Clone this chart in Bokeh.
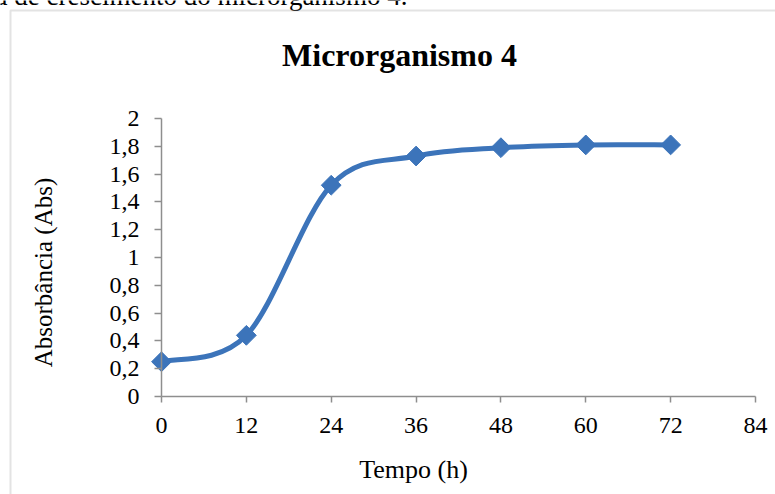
import numpy as np
from bokeh.plotting import figure
from bokeh.models import Range1d, FixedTicker, Label, BoxAnnotation, ColumnDataSource, CustomJSTickFormatter
from bokeh.embed import file_html
from bokeh.resources import INLINE

# Growth curve of microorganism 4
tempo_h = [0, 12, 24, 36, 48, 60, 72]
absorbancia = [0.25, 0.44, 1.52, 1.73, 1.79, 1.81, 1.81]
x_ticks = [0, 12, 24, 36, 48, 60, 72, 84]
y_ticks = [0, 0.2, 0.4, 0.6, 0.8, 1.0, 1.2, 1.4, 1.6, 1.8, 2.0]

titulo = "Microrganismo 4"
rotulo_x = "Tempo (h)"
rotulo_y = "Absorbância (Abs)"
legenda_texto = "a de crescimento do microrganismo 4."

SERIF = "Liberation Serif"
BLUE = "#3c74ba"
AXIS_GRAY = "#8e8e8e"

W, H = 775, 494
# plot area in canvas pixels (left, right, top, bottom)
PL, PR, PT, PB = 161, 755, 118, 396
X0, X1, Y0, Y1 = 0, 84, 0, 2
kx = (X1 - X0) / (PR - PL)
ky = (Y1 - Y0) / (PB - PT)

# The frame spans the whole canvas; axes are pinned at the data origin
p = figure(width=W, height=H, output_backend="svg", toolbar_location=None,
           x_range=Range1d(X0 - PL * kx, X1 + (W - PR) * kx),
           y_range=Range1d(Y0 - (H - PB) * ky, Y1 + PT * ky),
           min_border=0, min_border_left=0, min_border_right=0,
           min_border_top=0, min_border_bottom=0)
p.outline_line_color = None
p.xgrid.visible = False
p.ygrid.visible = False
p.background_fill_color = "white"
p.border_fill_color = "white"

for ax in (p.xaxis[0], p.yaxis[0]):
    ax.axis_line_color = AXIS_GRAY
    ax.axis_line_width = 1.5
    ax.major_tick_line_color = AXIS_GRAY
    ax.major_tick_line_width = 1.5
    ax.major_tick_in = 0
    ax.minor_tick_line_color = None
    ax.major_label_text_font = SERIF
    ax.major_label_text_font_size = "24px"
    ax.major_label_text_color = "#000000"

p.xaxis.fixed_location = Y0
p.yaxis.fixed_location = X0
p.xaxis.bounds = (X0, X1)
p.yaxis.bounds = (Y0, Y1)
p.xaxis.ticker = FixedTicker(ticks=x_ticks)
p.yaxis.ticker = FixedTicker(ticks=y_ticks)
p.xaxis.major_tick_out = 6
p.yaxis.major_tick_out = 7
p.xaxis.major_label_standoff = 15
p.yaxis.major_label_standoff = 15
p.yaxis.formatter = CustomJSTickFormatter(
    code="return (Math.round(tick*10)/10).toString().replace('.', ',');")

# Smoothed line: cubic Bezier segments with Catmull-Rom control points
xs = np.array(tempo_h, dtype=float)
ys = np.array(absorbancia, dtype=float)
xp = np.concatenate([[xs[0]], xs, [xs[-1]]])
yp = np.concatenate([[ys[0]], ys, [ys[-1]]])
seg = ColumnDataSource(dict(
    x0=xs[:-1], y0=ys[:-1], x1=xs[1:], y1=ys[1:],
    cx0=xs[:-1] + (xp[2:-1] - xp[:-3]) / 6.0,
    cy0=ys[:-1] + (yp[2:-1] - yp[:-3]) / 6.0,
    cx1=xs[1:] - (xp[3:] - xp[1:-2]) / 6.0,
    cy1=ys[1:] - (yp[3:] - yp[1:-2]) / 6.0,
))
p.bezier(x0="x0", y0="y0", x1="x1", y1="y1", cx0="cx0", cy0="cy0",
         cx1="cx1", cy1="cy1", source=seg, line_color=BLUE, line_width=5)
p.scatter(tempo_h, absorbancia, marker="square", size=14, angle=np.pi / 4,
          fill_color=BLUE, line_color=BLUE)


def label(x, y_top, text, size, **kw):
    # screen units run from the frame's bottom-left corner
    p.add_layout(Label(x=x, y=H - y_top, x_units="screen", y_units="screen",
                       text=text, text_font=SERIF, text_font_size=size,
                       text_baseline="alphabetic", text_color="#000000", **kw))


label(399, 54, titulo, "32px", text_font_style="bold", text_align="center")
label(413, 469, rotulo_x, "26px", text_align="center")
label(43, 272, rotulo_y, "25px", text_align="center", angle=np.pi / 2)
label(-5, -5, legenda_texto, "27px", text_align="left")

# Border of the chart box
p.add_layout(BoxAnnotation(left=10, right=W + 20, top=H - 10, bottom=-20,
                           left_units="screen", right_units="screen",
                           top_units="screen", bottom_units="screen",
                           fill_color=None, line_color="#a3a3a3", line_width=2))

open("out.html", "w").write(file_html(p, INLINE))
